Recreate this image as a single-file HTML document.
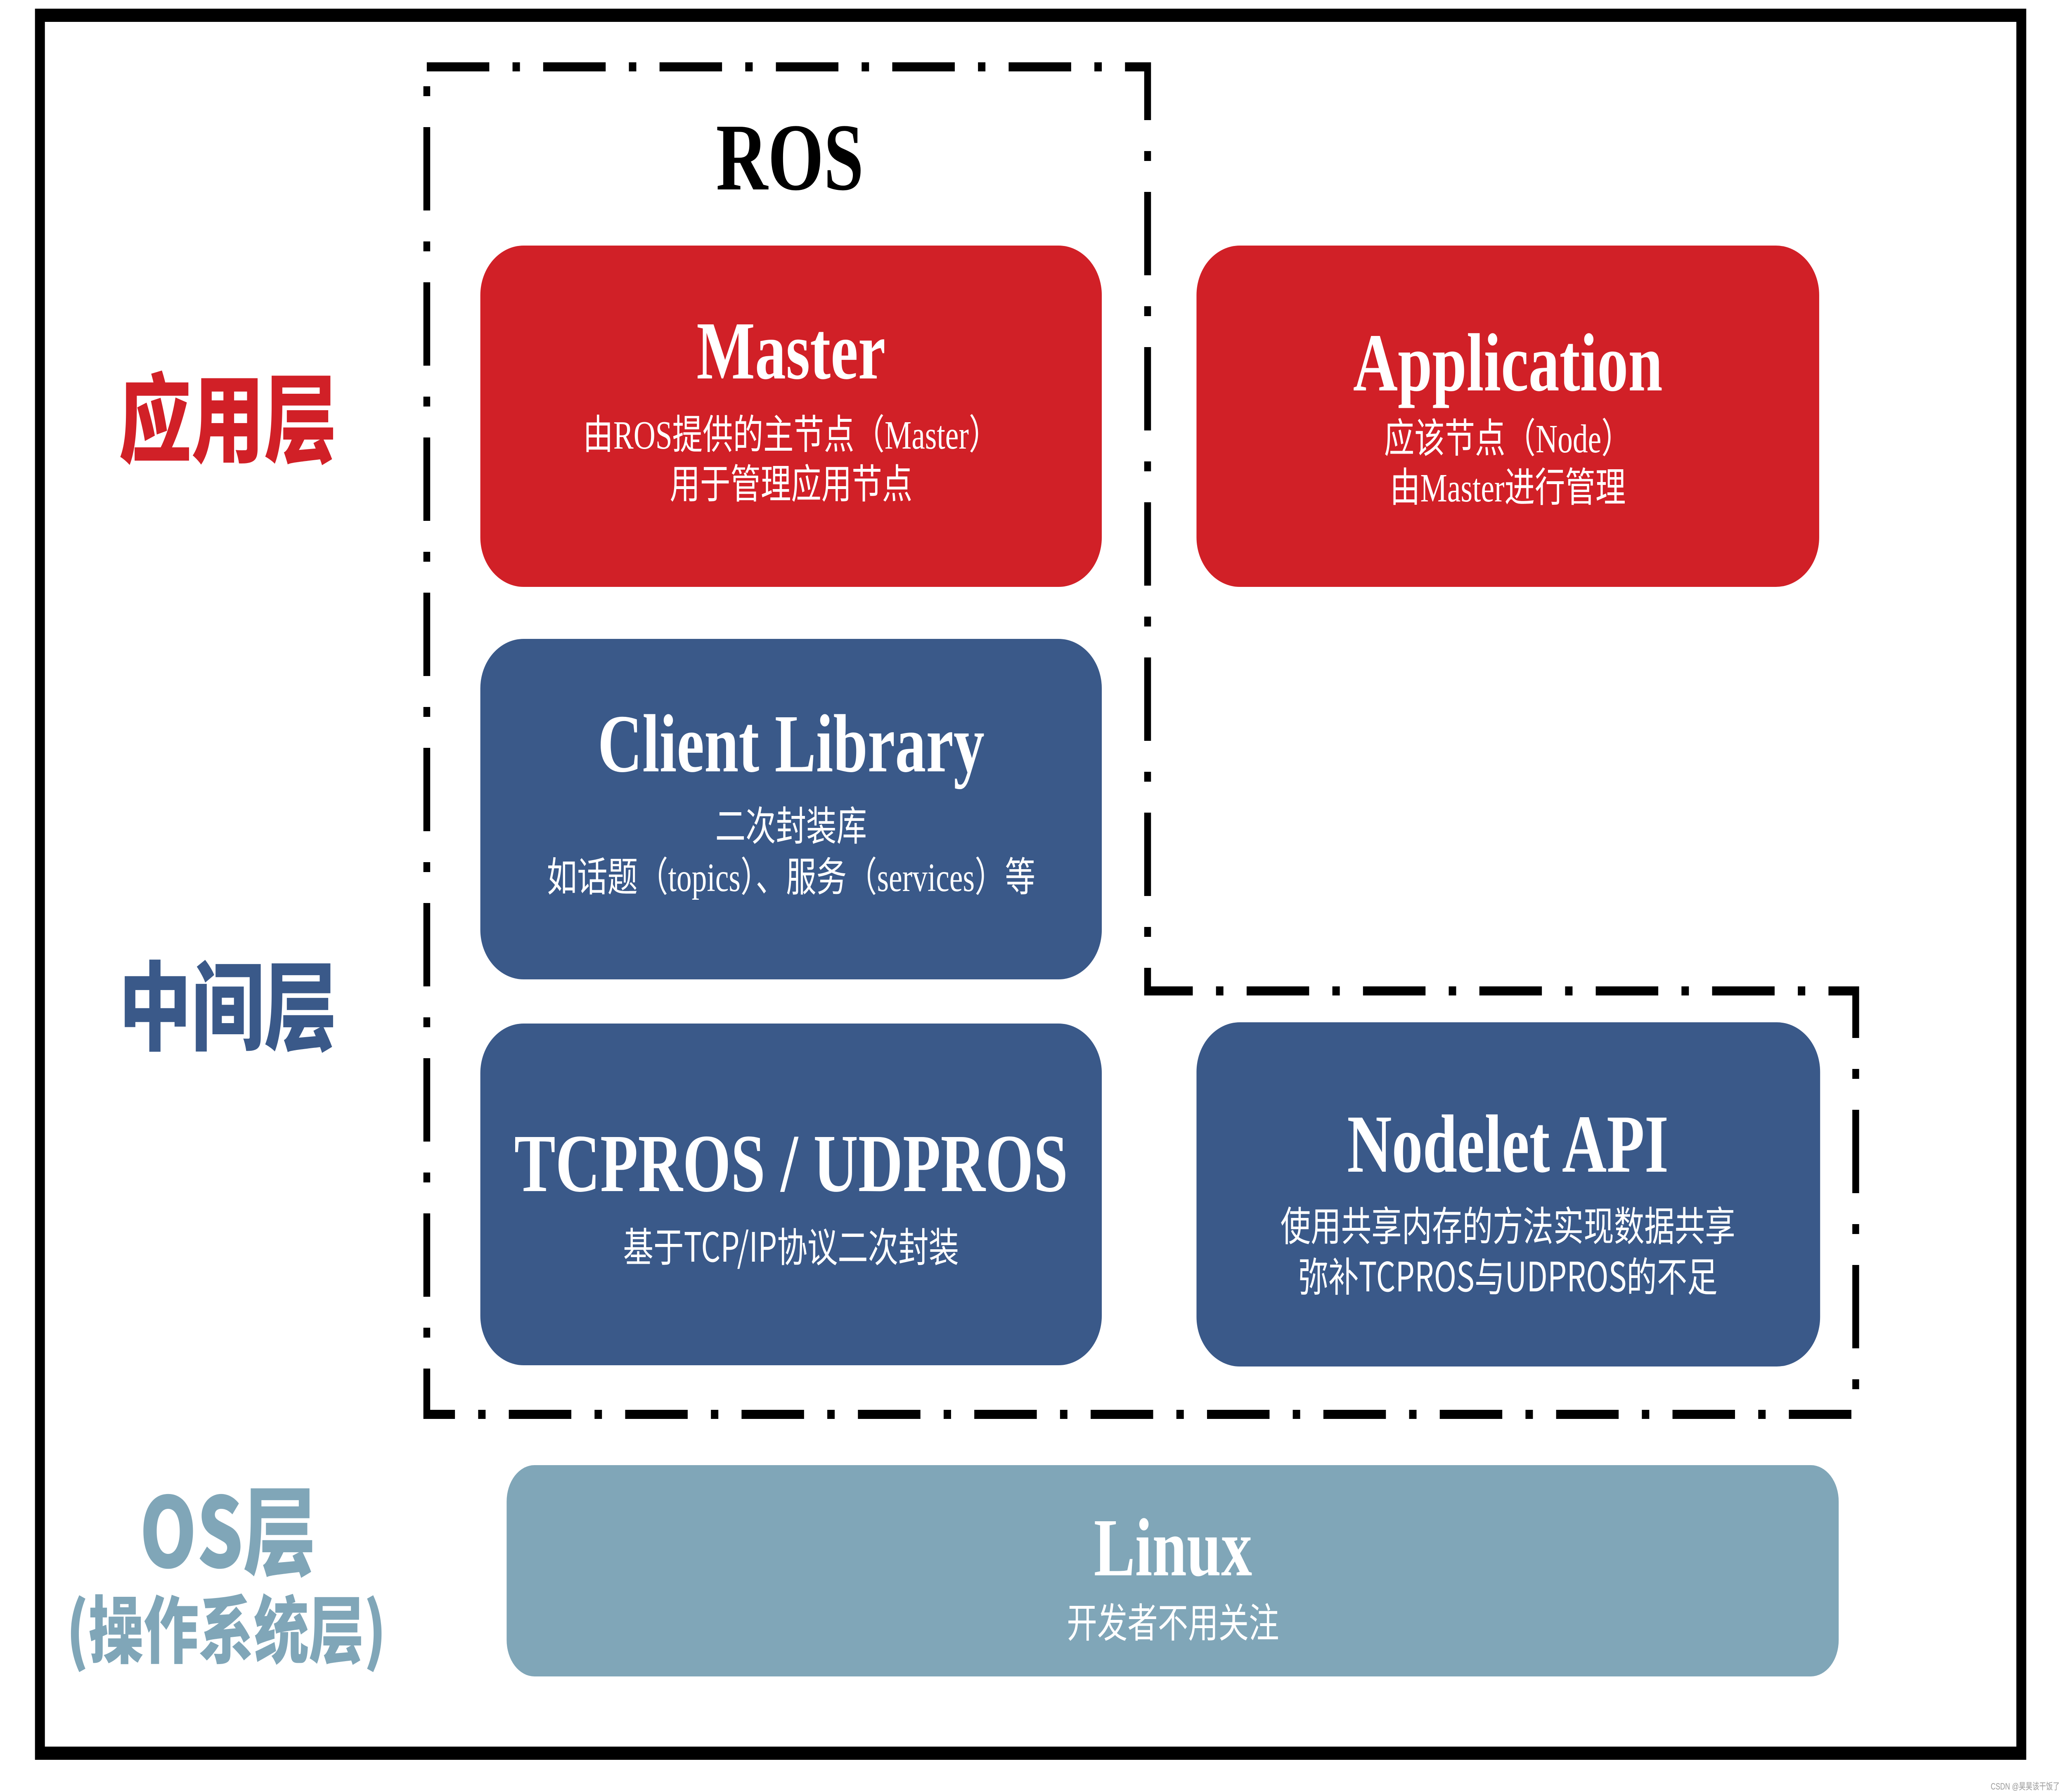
<!DOCTYPE html>
<html><head><meta charset="utf-8"><style>
html,body{margin:0;padding:0;background:#fff;overflow:hidden;width:100%;height:100%;}
svg{display:block;width:100vw;height:100vh;}
.t{font-family:"Liberation Serif","Noto Serif CJK SC",serif;font-weight:bold;fill:#fff;font-size:200px;}
.s{font-family:"Liberation Serif","Noto Sans CJK SC",sans-serif;fill:#fff;font-size:98px;}
.n{font-family:"Noto Sans CJK SC","Liberation Sans",sans-serif;fill:#fff;font-size:98px;}
.l{font-family:"Noto Sans CJK SC","Liberation Sans",sans-serif;font-weight:900;}
</style></head><body>
<svg viewBox="0 0 6669 4342" preserveAspectRatio="none" xmlns="http://www.w3.org/2000/svg">
<rect width="6669" height="4342" fill="#fff"/>
<rect x="129" y="37" width="6402" height="4211" fill="none" stroke="#000" stroke-width="32"/>
<path d="M1379,162 H3708 V2401 H5996 V3427 H1379 Z" fill="none" stroke="#000" stroke-width="22" stroke-dasharray="202 75 24 75"/>
<text x="2552" y="459" text-anchor="middle" font-family="Liberation Serif,serif" font-weight="bold" font-size="232" fill="#000">ROS</text>

<rect x="1552" y="595" width="2008" height="827" rx="140" ry="120" fill="#d12027"/>
<rect x="3866" y="595" width="2012" height="827" rx="140" ry="120" fill="#d12027"/>
<rect x="1552" y="1548" width="2008" height="825" rx="140" ry="120" fill="#3a5989"/>
<rect x="1552" y="2480" width="2008" height="828" rx="140" ry="120" fill="#3a5989"/>
<rect x="3866" y="2477" width="2015" height="834" rx="140" ry="120" fill="#3a5989"/>
<rect x="1637" y="3550" width="4304" height="512" rx="90" ry="88" fill="#80a6b8"/>

<text class="t" x="2556" y="917" text-anchor="middle">Master</text>
<text class="s" x="2556" y="1087" text-anchor="middle">由ROS提供的主节点（Master）</text>
<text class="s" x="2556" y="1207" text-anchor="middle">用于管理应用节点</text>

<text class="t" x="4872" y="946" text-anchor="middle">Application</text>
<text class="s" x="4872" y="1096" text-anchor="middle">应该节点（Node）</text>
<text class="s" x="4872" y="1215" text-anchor="middle">由Master进行管理</text>

<text class="t" x="2556" y="1869" text-anchor="middle">Client Library</text>
<text class="s" x="2556" y="2036" text-anchor="middle">二次封装库</text>
<text class="s" x="2556" y="2159" text-anchor="middle">如话题（topics）、服务（services）等</text>

<text class="t" x="2556" y="2886" text-anchor="middle">TCPROS / UDPROS</text>
<text class="n" x="2556" y="3057" text-anchor="middle">基于TCP/IP协议二次封装</text>

<text class="t" x="4872" y="2839" text-anchor="middle">Nodelet API</text>
<text class="n" x="4872" y="3006" text-anchor="middle">使用共享内存的方法实现数据共享</text>
<text class="n" x="4872" y="3129" text-anchor="middle">弥补TCPROS与UDPROS的不足</text>

<text class="t" x="3790" y="3817" text-anchor="middle">Linux</text>
<text class="n" x="3790" y="3967" text-anchor="middle">开发者不用关注</text>

<text class="l" x="736" y="1102" text-anchor="middle" font-size="235" fill="#d12027">应用层</text>
<text class="l" x="736" y="2526" text-anchor="middle" font-size="235" fill="#3a5989">中间层</text>
<text class="l" x="736" y="3798" text-anchor="middle" font-size="235" fill="#80a6b8">OS层</text>
<text class="l" x="731" y="4015" text-anchor="middle" font-size="178" fill="#80a6b8">(操作系统层)</text>

<text x="6655" y="4336" text-anchor="end" font-family="Liberation Sans,Noto Sans CJK SC,sans-serif" font-size="22" fill="#999">CSDN @昊昊该干饭了</text>
</svg>
</body></html>
